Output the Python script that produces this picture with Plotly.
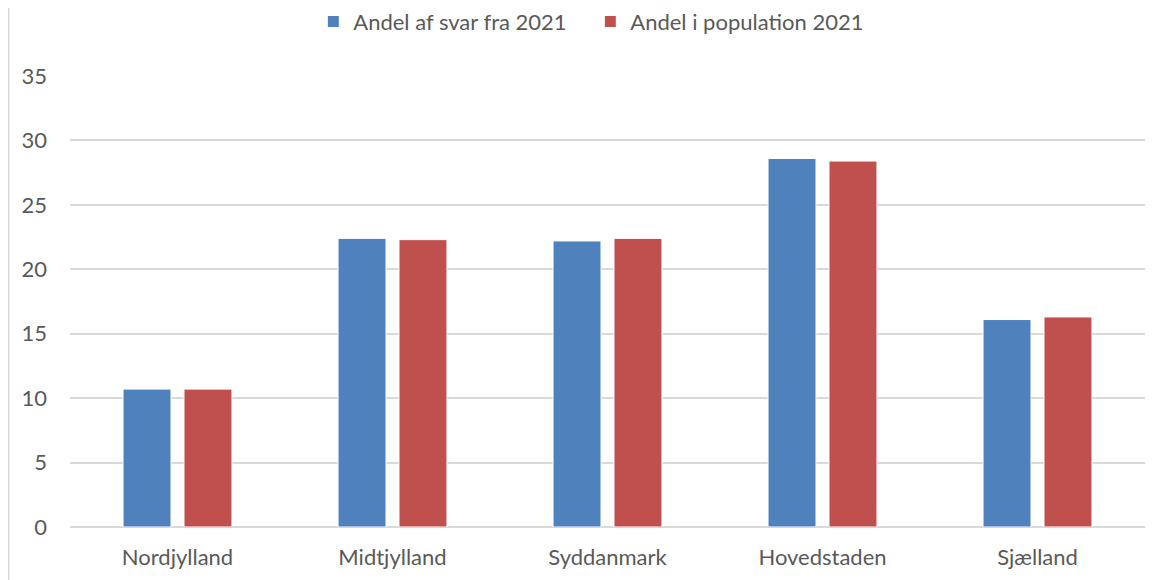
import plotly.graph_objects as go

regions = ["Nordjylland", "Midtjylland", "Syddanmark", "Hovedstaden", "Sjælland"]
andel_svar = [10.7, 22.4, 22.2, 28.6, 16.1]
andel_pop = [10.7, 22.3, 22.4, 28.4, 16.3]
y_ticks = [0, 5, 10, 15, 20, 25, 30, 35]

BLUE = "#4f81bd"
RED = "#c0504d"
FONT = dict(family="Lato, 'Open Sans', sans-serif", size=22, color="#595959")

fig = go.Figure()
fig.add_trace(go.Bar(x=regions, y=andel_svar, name="Andel af svar fra 2021",
                     marker=dict(color=BLUE, line=dict(color="white", width=1))))
fig.add_trace(go.Bar(x=regions, y=andel_pop, name="Andel i population 2021",
                     marker=dict(color=RED, line=dict(color="white", width=1))))

# the page body keeps an 8px margin, so the figure is a bit smaller than the window
fig.update_layout(
    width=1153, height=572,
    paper_bgcolor="white", plot_bgcolor="white",
    font=FONT,
    margin=dict(l=62, r=16, t=68, b=53, autoexpand=False),
    barmode="group", bargap=0.433, bargroupgap=0.213,
    legend=dict(orientation="h", x=0.484, xanchor="center", y=0.976, yanchor="middle",
                yref="container", font=FONT, itemwidth=30, entrywidth=232,
                traceorder="normal"),
    xaxis=dict(showgrid=False, showline=False, ticks="", tickfont=FONT,
               ticklabelstandoff=15),
    yaxis=dict(range=[0, 35], tickvals=y_ticks, showgrid=True, gridcolor="#d9d9d9",
               gridwidth=1.5, zeroline=True, zerolinecolor="#d9d9d9", zerolinewidth=1.5,
               ticks="", tickfont=FONT, ticklabelstandoff=22),
    shapes=[dict(type="line", xref="paper", yref="paper", x0=-0.0572, x1=-0.0572,
                 y0=-0.2, y1=1.3, line=dict(color="#d9d9d9", width=2))],
)

fig.write_html("out.html")
